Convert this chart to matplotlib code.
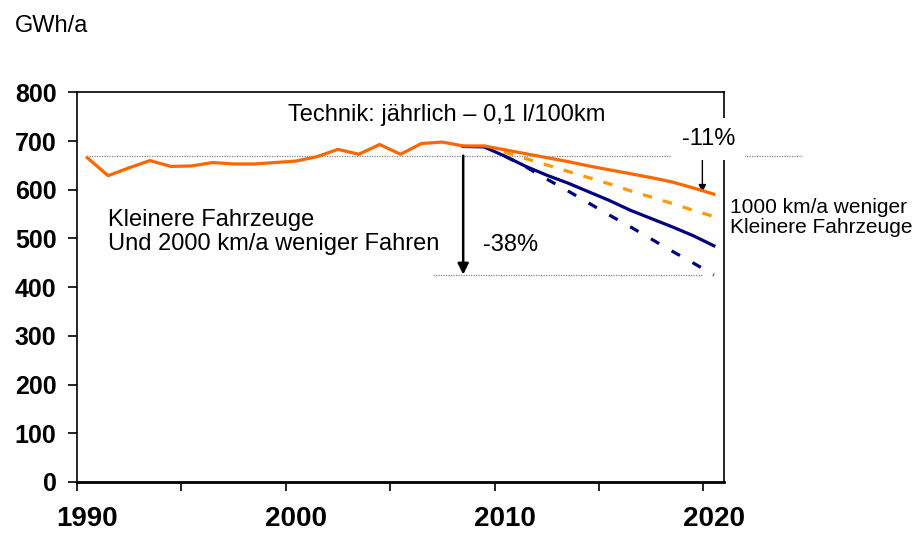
import matplotlib.pyplot as plt

plt.rcParams['font.family'] = ['Liberation Sans', 'DejaVu Sans']

# historic consumption, GWh/a
years_hist = list(range(1990, 2009))
hist = [666, 629, 645, 660, 648, 649, 656, 653, 653, 656, 659, 668, 683, 673, 693, 673, 695, 698, 690]

# scenarios 2008 - 2020
years_tech = list(range(2008, 2021))
tech = [690, 690, 682, 674, 666, 658, 649, 641, 633, 625, 616, 604, 591]

years_km1000 = list(range(2009, 2021))
km1000 = [690, 677, 664, 651, 638, 625, 612, 598, 585, 572, 558, 545]

years_small = list(range(2008, 2021))
small = [689, 688, 669, 648, 630, 614, 596, 578, 558, 541, 524, 506, 485]

years_small2000 = list(range(2010, 2021))
small2000 = [669, 647, 622, 598, 573, 548, 524, 499, 474, 450, 425]

ref_level = 670
low_level = 426
end_tech = 595

orange = '#FF6600'
light_orange = '#FF9900'
navy = '#000080'

fig = plt.figure(figsize=(9.18, 5.34), dpi=100)
ax = fig.add_axes([0.0836, 0.0974, 0.7054, 0.7296])

# reference dotted lines
ax.plot([1990.1, 2024.2], [ref_level, ref_level], color='#888888', lw=0.9,
        ls=(0, (1, 1)), clip_on=False, zorder=1)
ax.plot([2006.55, 2019.5], [low_level, low_level], color='#888888', lw=0.9,
        ls=(0, (1, 1)), zorder=1)

ax.plot(years_small2000, small2000, color=navy, lw=2.3, ls=(0, (3, 4.5)), zorder=3)
ax.plot(years_km1000, km1000, color=light_orange, lw=2.3, ls=(0, (3, 3.5)), zorder=3)
ax.plot(years_small, small, color=navy, lw=2.3, zorder=4)
ax.plot(years_hist + years_tech[1:], hist + tech[1:], color=orange, lw=2.3, zorder=5)

# arrows
ax.annotate('', xy=(2008, low_level), xytext=(2008, ref_level),
            arrowprops=dict(arrowstyle='-|>', color='black', lw=1.8,
                            mutation_scale=16, shrinkA=0, shrinkB=0))
ax.annotate('', xy=(2019.45, end_tech), xytext=(2019.45, ref_level),
            arrowprops=dict(arrowstyle='-|>', color='black', lw=1.0,
                            mutation_scale=11, shrinkA=0, shrinkB=0))

ax.text(1999.62, 754, 'Technik: jährlich – 0,1 l/100km', fontsize=17,
        ha='left', va='center')
ax.text(1991.0, 514, 'Kleinere Fahrzeuge\nUnd 2000 km/a weniger Fahren',
        fontsize=17, ha='left', va='center', linespacing=1.1)
ax.text(2008.94, 487, '-38%', fontsize=17, ha='left', va='center')
ax.text(2019.75, 704, '-11%', fontsize=17, ha='center', va='center',
        clip_on=False, zorder=10,
        bbox=dict(facecolor='white', edgecolor='none', pad=7))
ax.text(2020.75, 543, '1000 km/a weniger\nKleinere Fahrzeuge', fontsize=15,
        ha='left', va='center', linespacing=1.1, clip_on=False)

fig.text(15 / 918, 1 - 26 / 534, 'GWh/a', fontsize=17, ha='left', va='center')

ax.set_xlim(1989.5, 2020.5)
ax.set_ylim(0, 800)
ax.set_xticks([1989.5 + 5 * i for i in range(7)])
ax.set_xticklabels([])
ax.set_xticks([1990, 2000, 2010, 2020], minor=True)
ax.set_xticklabels(['1990', '2000', '2010', '2020'], minor=True,
                   fontsize=20, fontweight='bold')
ax.set_yticks(range(0, 801, 100))
ax.set_yticklabels([str(v) for v in range(0, 801, 100)], fontsize=18,
                   fontweight='bold')

ax.tick_params(axis='x', which='major', direction='out', length=6.5, width=1.2)
ax.tick_params(axis='x', which='minor', length=0, pad=17)
ax.tick_params(axis='y', direction='out', length=6.5, width=1.2, pad=8)

for s in ax.spines.values():
    s.set_linewidth(1.2)
ax.spines['bottom'].set_linewidth(2)

fig.savefig('out.png', dpi=100)
